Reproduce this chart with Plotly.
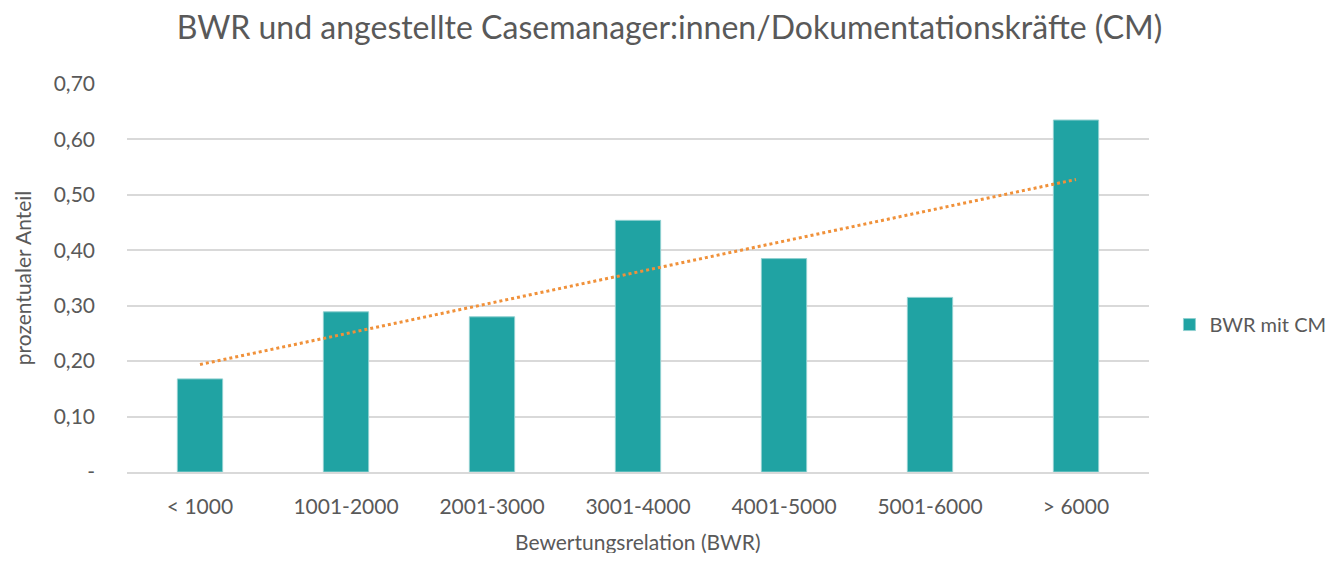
import numpy as np
import plotly.graph_objects as go

kategorien = ["< 1000", "1001-2000", "2001-3000", "3001-4000", "4001-5000", "5001-6000", "> 6000"]
anteil_cm = [0.168, 0.289, 0.280, 0.454, 0.385, 0.315, 0.635]
y_ticks = [0, 0.1, 0.2, 0.3, 0.4, 0.5, 0.6, 0.7]
y_ticktext = ["-", "0,10", "0,20", "0,30", "0,40", "0,50", "0,60", "0,70"]

# linearer Trend wie in Excel
idx = np.arange(len(anteil_cm))
m, b = np.polyfit(idx, anteil_cm, 1)
trend = m * idx + b

grau = "#595959"
schrift = "Lato"

fig = go.Figure()
fig.add_trace(go.Bar(
    x=kategorien, y=anteil_cm, name="BWR mit CM",
    marker=dict(color="#20a3a3", line=dict(color="#8fd0d0", width=1)),
    width=0.31,
))
fig.add_trace(go.Scatter(
    x=kategorien, y=trend, mode="lines", showlegend=False,
    line=dict(color="#f0913a", width=3, dash="dot"),
))

# Seite hat 8px Rand -> Figur etwas kleiner
fig.update_layout(
    width=1323, height=545,
    plot_bgcolor="white", paper_bgcolor="white",
    margin=dict(l=119, r=182, t=76, b=81, autoexpand=False),
    font=dict(family=schrift, color=grau, size=21),
    title=dict(text="BWR und angestellte Casemanager:innen/Dokumentationskräfte (CM)",
               x=0.5, xanchor="center", y=0.963, yanchor="middle",
               font=dict(size=32, color=grau)),
    legend=dict(x=1.02, y=0.38, yanchor="middle", itemwidth=30,
                font=dict(size=20, color=grau)),
)
# x-Achsentitel als Annotation (standoff greift ohne automargin nicht)
fig.add_annotation(
    text="Bewertungsrelation (BWR)", xref="paper", yref="paper",
    x=0.5, y=-0.178, yanchor="middle", showarrow=False,
    font=dict(size=21, color=grau),
)
fig.update_xaxes(
    showline=True, linecolor="#d9d9d9", linewidth=2, ticks="", ticklabelstandoff=15,
    automargin=False,
)
fig.update_yaxes(
    title=dict(text="prozentualer Anteil", standoff=16, font=dict(size=21)),
    range=[0, 0.7], tickvals=y_ticks, ticktext=y_ticktext,
    gridcolor="#d9d9d9", gridwidth=2, zeroline=False, ticklabelstandoff=31,
    automargin=False,
)

fig.write_html("out.html")
